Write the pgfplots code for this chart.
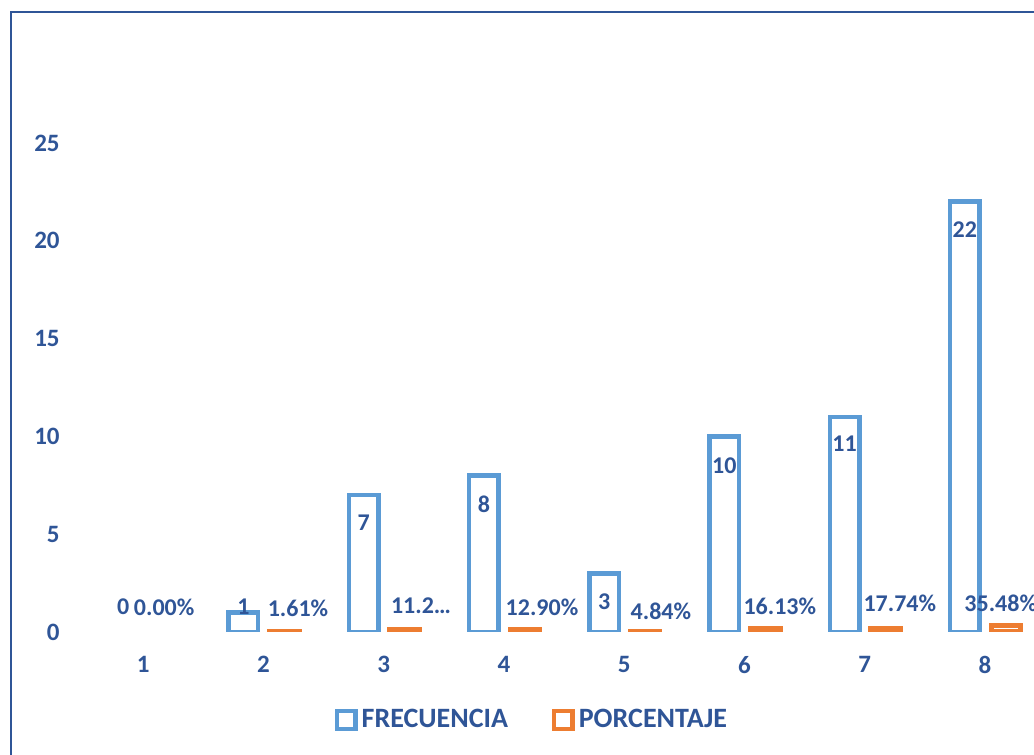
\documentclass[border=0pt]{standalone}
\usepackage{pgfplots}
\pgfplotsset{compat=1.18}
\usepackage{fontspec}
\setmainfont{Carlito}
\definecolor{cblue}{HTML}{5B9BD5}
\definecolor{corange}{HTML}{ED7D31}
\definecolor{ctext}{HTML}{2F5597}
\begin{document}
\begin{tikzpicture}
\path[use as bounding box] (0,0) rectangle (517pt,377.5pt);
\draw[ctext, line width=0.8pt] (5.5pt,-10pt) -- (5.5pt,371.5pt) -- (540pt,371.5pt);
\begin{axis}[
  at={(41.5pt,61.5pt)}, anchor=south west,
  scale only axis, width=481pt, height=244.5pt,
  xmin=0.5, xmax=8.5, ymin=0, ymax=25,
  xtick={1,2,3,4,5,6,7,8}, ytick={0,5,10,15,20,25},
  axis line style={draw=none},
  major tick length=0pt,
  /pgf/number format/assume math mode=true,
  ticklabel style={font=\bfseries\fontsize{12.5}{14}\selectfont, text=ctext},
  xticklabel style={anchor=north, inner sep=0pt, yshift=-12pt},
  yticklabel style={anchor=east, inner sep=0pt, xshift=-11.5pt},
  legend style={at={(0.4678,-0.18)}, anchor=center, draw=none, fill=none,
    legend columns=2, font=\bfseries\fontsize{14}{16}\selectfont, text=ctext,
    /tikz/every even column/.append style={column sep=20pt}},
  legend cell align=left,
]
\addplot[ybar, bar width=14.75pt, bar shift=-10pt, draw=cblue, fill=white, line width=2.3pt,
  legend image code/.code={\draw[cblue, fill=white, line width=2.2pt] (0pt,-4.6pt) rectangle (9.2pt,4.6pt);}]
  coordinates {(2,1) (3,7) (4,8) (5,3) (6,10) (7,11) (8,22)};
\addlegendentry{FRECUENCIA}
\addplot[ybar, bar width=14.75pt, bar shift=10.5pt, draw=corange, fill=white, line width=2.5pt,
  legend image code/.code={\draw[corange, fill=white, line width=2.2pt] (0pt,-4.6pt) rectangle (9.2pt,4.6pt);}]
  coordinates {(2,0.0161) (3,0.1129) (4,0.1290) (5,0.0484) (6,0.1613) (7,0.1774) (8,0.3548)};
\addlegendentry{PORCENTAJE}
% value labels of FRECUENCIA
\addplot[draw=none, mark=none, forget plot, nodes near coords, point meta=explicit symbolic,
  nodes near coords align={anchor=center},
  every node near coord/.append style={font=\bfseries\fontsize{12}{14}\selectfont, text=ctext, inner sep=0pt}]
  coordinates {(0.834,1.28)[0] (1.834,1.28)[1] (2.834,5.57)[7] (3.834,6.54)[8] (4.834,1.53)[3]
               (5.834,8.49)[10] (6.834,9.61)[11] (7.834,20.55)[22]};
% value labels of PORCENTAJE
\addplot[draw=none, mark=none, forget plot, nodes near coords, point meta=explicit symbolic,
  nodes near coords align={anchor=center},
  every node near coord/.append style={font=\bfseries\fontsize{12}{14}\selectfont, text=ctext, inner sep=0pt}]
  coordinates {(1.175,1.28)[0.00\%] (2.288,1.23)[1.61\%] (3.311,1.33)[11.2…] (4.317,1.28)[12.90\%]
               (5.306,1.07)[4.84\%] (6.295,1.33)[16.13\%] (7.293,1.48)[17.74\%] (8.132,1.48)[35.48\%]};
\end{axis}
\end{tikzpicture}
\end{document}
